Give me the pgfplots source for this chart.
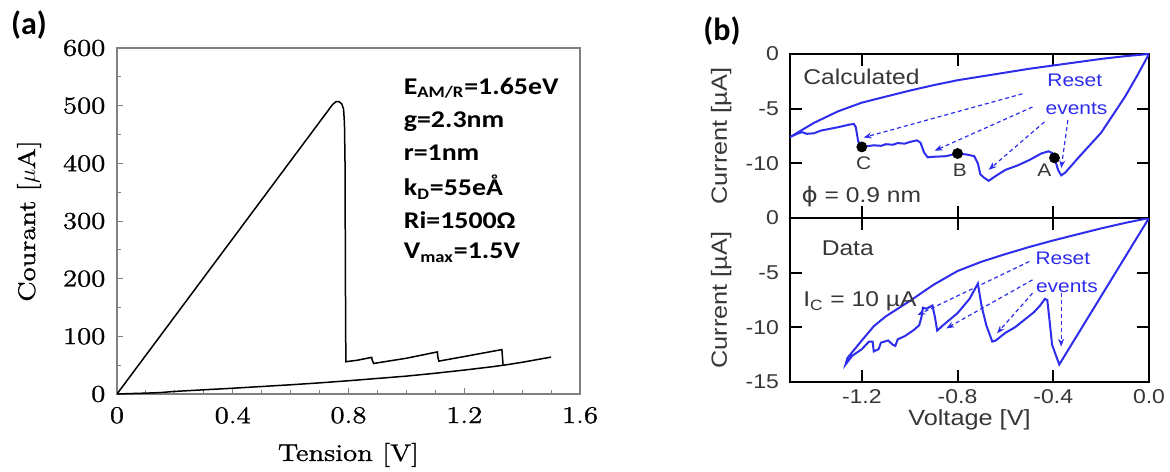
\documentclass[border=0pt]{standalone}
\usepackage{fontspec}
\usepackage{pgfplots}
\pgfplotsset{compat=1.18}
\usetikzlibrary{arrows.meta}
\newfontfamily\arial{Liberation Sans}[FakeStretch=1.15]
\newfontfamily\calibri{Carlito}
\newfontfamily\calibrist{Carlito}[FakeStretch=1.16]
\newfontfamily\dejavu{DejaVu Sans}[FakeStretch=1.15]
\newfontfamily\lmr{lmroman12-regular}[Extension=.otf, FakeStretch=1.2, FakeBold=1.2]
\newcommand\lmfont{\lmr\fontsize{12}{14}\selectfont}
\definecolor{bblue}{RGB}{45,45,235}
\definecolor{tgray}{RGB}{55,55,55}
\pgfplotsset{
  bstyle/.style={
    scale only axis, width=179.5pt, height=82pt,
    xmin=-1.5, xmax=0, ymin=-15, ymax=0,
    xtick={-1.2,-0.8,-0.4,0},
    tick align=inside, major tick length=6pt,
    axis line style={line width=1.3pt},
    every tick/.style={black, line width=1pt},
    tick label style={font=\arial\fontsize{10}{12}\selectfont, text=tgray},
    yticklabel style={xshift=-2pt},
    label style={font=\arial\fontsize{11}{13}\selectfont, text=tgray},
    ylabel style={at={(axis description cs:-0.192,0.5)}, anchor=center},
    clip=true,
  },
}
\tikzset{
  ann/.style={font=\arial\fontsize{10.7}{13}\selectfont, text=tgray},
  rst/.style={font=\arial\fontsize{9.1}{11}\selectfont, text=bblue},
  abc/.style={font=\arial\fontsize{9.1}{11}\selectfont, text=tgray},
  darr/.style={bblue, line width=0.6pt, dash pattern=on 2pt off 1.5pt, -{Stealth[length=4pt,width=3pt]}},
}
\begin{document}
\begin{tikzpicture}
\useasboundingbox (0,0) rectangle (585pt,235.5pt);
\node[font=\calibri\bfseries\fontsize{16}{18}\selectfont] at (14.5pt,223pt) {(a)};
\node[font=\calibri\bfseries\fontsize{16}{18}\selectfont] at (361pt,220pt) {(b)};

% ---------------- panel (a)
\begin{axis}[
  at={(58.5pt,38.5pt)}, anchor=south west,
  scale only axis, width=231.5pt, height=173pt,
  xmin=0, xmax=1.6, ymin=0, ymax=600,
  xtick={0,0.4,0.8,1.2,1.6}, xticklabels={0,0.4,0.8,1.2,1.6},
  ytick={0,100,200,300,400,500,600},
  yticklabels={0,100,200,300,400,500,600},
  minor x tick num=3, minor y tick num=1,
  tick align=inside, xtick pos=bottom, ytick pos=left,
  major tick length=3pt, minor tick length=2pt,
  axis line style={gray, line width=0.6pt},
  every tick/.style={gray, line width=0.5pt},
  tick label style={font=\lmfont},
  xticklabel style={yshift=-3pt},
  yticklabel style={xshift=-2.3pt},
  label style={font=\lmfont},
  xlabel={Tension [V]}, ylabel={Courant [$\mu$A]},
  xlabel style={at={(axis description cs:0.5,-0.176)}, anchor=center},
  ylabel style={at={(axis description cs:-0.19,0.5)}, anchor=center},
]
\addplot[black, line width=0.75pt] coordinates {
 (0,0) (0.745,502) (0.757,507) (0.767,507) (0.777,503) (0.783,494) (0.786,470)
 (0.788,400) (0.789,250) (0.790,120) (0.791,56) (0.83,58.5) (0.88,63.5)
 (0.882,59) (0.887,53) (1.0,62) (1.107,73) (1.109,64) (1.112,57) (1.2,65)
 (1.33,77) (1.332,65) (1.334,51)
};
\addplot[black, line width=0.75pt] coordinates {
 (0,0) (0.05,0.8) (0.1,1.5) (0.15,2.5) (0.2,4.5) (0.3,7.3) (0.4,10) (0.5,13)
 (0.6,16) (0.7,19.3) (0.8,23) (0.9,27) (1.0,31) (1.1,36) (1.2,41.5) (1.3,47.5)
 (1.35,51) (1.4,55) (1.45,59.5) (1.5,64)
};
\begin{scope}[font=\calibrist\bfseries\fontsize{12}{14}\selectfont]
\node[anchor=west] at (axis cs:0.967,530) {E\textsubscript{AM/R}=1.65eV};
\node[anchor=west] at (axis cs:0.967,472) {g=2.3nm};
\node[anchor=west] at (axis cs:0.967,418) {r=1nm};
\node[anchor=west] at (axis cs:0.967,359) {k\textsubscript{D}=55eÅ};
\node[anchor=west] at (axis cs:0.967,302) {Ri=1500Ω};
\node[anchor=west] at (axis cs:0.967,245) {V\textsubscript{max}=1.5V};
\end{scope}
\end{axis}

% ---------------- panel (b) upper
\begin{axis}[bstyle,
  at={(395pt,126.5pt)}, anchor=south west,
  ytick={-10,-5,0}, yticklabels={-10,-5,0}, xticklabels={},
  ylabel={Current [µA]},
]
\addplot[bblue, line width=1pt] coordinates {
 (0,0) (-0.1,-0.2) (-0.2,-0.45) (-0.3,-0.75) (-0.4,-1.05) (-0.5,-1.35)
 (-0.6,-1.7) (-0.7,-2.05) (-0.8,-2.4) (-0.9,-2.85) (-1.0,-3.35) (-1.1,-3.9)
 (-1.2,-4.45) (-1.3,-5.25) (-1.4,-6.3) (-1.5,-7.6)
 (-1.47,-7.3) (-1.45,-7.15) (-1.43,-7.3) (-1.40,-7.25) (-1.37,-7.0)
 (-1.3,-6.7) (-1.25,-6.45) (-1.233,-6.4) (-1.225,-6.7) (-1.215,-8.0)
 (-1.2,-8.5) (-1.15,-8.35) (-1.12,-8.4) (-1.1,-8.25) (-1.07,-8.3) (-1.05,-8.15)
 (-1.02,-8.2) (-1.0,-8.05) (-0.97,-7.9) (-0.955,-8.1) (-0.94,-9.0)
 (-0.925,-9.45) (-0.9,-9.4) (-0.85,-9.35) (-0.8,-9.1) (-0.76,-9.2)
 (-0.73,-9.35) (-0.715,-10.0) (-0.705,-11.0) (-0.69,-11.3) (-0.67,-11.6)
 (-0.64,-11.15) (-0.6,-10.6) (-0.55,-10.2) (-0.5,-9.7) (-0.45,-9.1)
 (-0.42,-8.9) (-0.405,-9.05) (-0.395,-9.5) (-0.38,-10.6) (-0.367,-11.1)
 (-0.35,-10.85) (-0.3,-9.6) (-0.2,-7.2) (-0.1,-3.9) (-0.05,-2.0) (0,0)
};
\addplot[only marks, mark=*, mark size=2.5pt, black] coordinates {
 (-1.2,-8.5) (-0.8,-9.1) (-0.395,-9.5)
};
\node[abc] at (axis cs:-1.192,-10.0) {C};
\node[abc] at (axis cs:-0.79,-10.6) {B};
\node[abc] at (axis cs:-0.437,-10.67) {A};
\node[ann, anchor=west, inner sep=0pt] at (axis cs:-1.446,-2.1) {Calculated};
\node[ann, anchor=west, inner sep=0pt] at (axis cs:-1.453,-13.0) {{\dejavu ϕ} = 0.9 nm};
\node[rst] at (axis cs:-0.31,-2.42) {Reset};
\node[rst] at (axis cs:-0.303,-5.0) {events};
\draw[darr] (axis cs:-0.529,-3.64) -- (axis cs:-1.192,-7.64);
\draw[darr] (axis cs:-0.487,-4.85) -- (axis cs:-0.896,-8.85);
\draw[darr] (axis cs:-0.437,-6.21) -- (axis cs:-0.670,-10.6);
\draw[darr] (axis cs:-0.339,-6.06) -- (axis cs:-0.367,-10.45);
\end{axis}

% ---------------- panel (b) lower
\begin{axis}[bstyle,
  at={(395pt,44.5pt)}, anchor=south west,
  ytick={-15,-10,-5,0}, yticklabels={-15,-10,-5,0},
  xticklabels={-1.2,-0.8,-0.4,0.0},
  xlabel={Voltage [V]}, ylabel={Current [µA]},
  xlabel style={at={(axis description cs:0.5,-0.232)}, anchor=center},
]
\addplot[bblue, line width=1pt] coordinates {
 (0,0) (-0.1,-0.45) (-0.2,-0.95) (-0.3,-1.5) (-0.4,-2.05) (-0.5,-2.65)
 (-0.6,-3.3) (-0.7,-4.0) (-0.8,-4.85) (-0.9,-6.1) (-1.0,-7.6) (-1.1,-9.0)
 (-1.15,-9.9) (-1.2,-11.2) (-1.26,-12.8) (-1.268,-13.4)
 (-1.24,-12.6) (-1.2,-12.0) (-1.17,-11.3) (-1.155,-11.3) (-1.15,-12.2)
 (-1.13,-12.0) (-1.12,-11.4) (-1.09,-11.2) (-1.07,-11.6) (-1.06,-11.7)
 (-1.05,-11.1) (-1.02,-10.8) (-1.0,-10.5) (-0.98,-10.2) (-0.96,-9.8)
 (-0.95,-9.0) (-0.945,-8.2) (-0.93,-8.3) (-0.905,-8.0) (-0.895,-9.0)
 (-0.885,-10.3) (-0.86,-9.8) (-0.8,-8.7) (-0.75,-7.4) (-0.72,-6.2)
 (-0.715,-6.0) (-0.7,-8.0) (-0.68,-9.8) (-0.655,-11.3) (-0.64,-11.2)
 (-0.6,-10.5) (-0.56,-10.0) (-0.52,-9.3) (-0.48,-8.6) (-0.455,-8.0)
 (-0.435,-7.4) (-0.425,-7.5) (-0.415,-9.5) (-0.405,-11.6) (-0.39,-12.5)
 (-0.375,-13.4) (0,0)
};
\node[ann, anchor=west, inner sep=0pt] at (axis cs:-1.369,-2.75) {Data};
\node[ann, anchor=west, inner sep=0pt] at (axis cs:-1.446,-7.65) {I\textsubscript{C} = 10 µA};
\node[rst] at (axis cs:-0.36,-3.67) {Reset};
\node[rst] at (axis cs:-0.343,-6.27) {events};
\draw[darr] (axis cs:-0.5,-3.98) -- (axis cs:-0.967,-8.87);
\draw[darr] (axis cs:-0.487,-5.66) -- (axis cs:-0.847,-10.1);
\draw[darr] (axis cs:-0.487,-6.88) -- (axis cs:-0.635,-10.55);
\draw[darr] (axis cs:-0.367,-6.88) -- (axis cs:-0.367,-11.77);
\end{axis}
\end{tikzpicture}
\end{document}
